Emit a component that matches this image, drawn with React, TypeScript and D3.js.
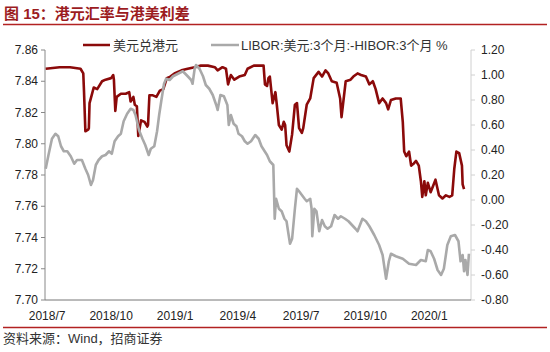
import React from "react";
import * as d3 from "d3";

const redDates = ["2018-06-29","2018-07-19","2018-08-03","2018-08-18","2018-08-22","2018-08-23","2018-08-25","2018-08-29","2018-08-30","2018-08-31","2018-09-03","2018-09-06","2018-09-11","2018-09-18","2018-09-23","2018-10-01","2018-10-04","2018-10-05","2018-10-07","2018-10-09","2018-10-15","2018-10-22","2018-10-27","2018-10-29","2018-11-02","2018-11-04","2018-11-07","2018-11-09","2018-11-13","2018-11-18","2018-11-22","2018-11-23","2018-11-25","2018-11-30","2018-12-05","2018-12-10","2018-12-15","2018-12-20","2018-12-25","2018-12-31","2019-01-10","2019-01-19","2019-01-29","2019-02-07","2019-02-17","2019-02-27","2019-03-03","2019-03-10","2019-03-15","2019-03-18","2019-03-22","2019-03-27","2019-04-03","2019-04-11","2019-04-15","2019-04-24","2019-05-08","2019-05-10","2019-05-13","2019-05-15","2019-05-17","2019-05-21","2019-05-25","2019-05-27","2019-05-30","2019-06-03","2019-06-06","2019-06-08","2019-06-10","2019-06-14","2019-06-18","2019-06-22","2019-06-25","2019-06-28","2019-07-02","2019-07-04","2019-07-09","2019-07-14","2019-07-19","2019-07-26","2019-07-31","2019-08-05","2019-08-09","2019-08-14","2019-08-21","2019-08-26","2019-08-28","2019-09-03","2019-09-10","2019-09-14","2019-09-20","2019-09-25","2019-10-02","2019-10-07","2019-10-12","2019-10-16","2019-10-21","2019-10-26","2019-10-31","2019-11-03","2019-11-07","2019-11-14","2019-11-21","2019-11-24","2019-11-26","2019-11-29","2019-12-03","2019-12-06","2019-12-09","2019-12-13","2019-12-17","2019-12-20","2019-12-22","2019-12-25","2019-12-27","2019-12-30","2020-01-03","2020-01-10","2020-01-15","2020-01-20","2020-01-25","2020-01-30","2020-02-03","2020-02-06","2020-02-09","2020-02-13","2020-02-17","2020-02-18","2020-02-20"];
const redValues = [7.848,7.849,7.849,7.848,7.845,7.834,7.808,7.809,7.810,7.826,7.831,7.836,7.835,7.840,7.841,7.842,7.844,7.841,7.821,7.830,7.832,7.832,7.833,7.827,7.830,7.825,7.824,7.805,7.815,7.814,7.811,7.812,7.831,7.831,7.830,7.834,7.835,7.842,7.843,7.845,7.847,7.848,7.849,7.850,7.850,7.849,7.847,7.849,7.848,7.838,7.844,7.841,7.843,7.844,7.848,7.850,7.850,7.838,7.837,7.842,7.843,7.826,7.833,7.825,7.812,7.809,7.814,7.812,7.799,7.795,7.806,7.825,7.826,7.810,7.807,7.810,7.825,7.829,7.842,7.846,7.843,7.847,7.845,7.840,7.839,7.829,7.817,7.840,7.841,7.843,7.845,7.844,7.843,7.838,7.840,7.835,7.826,7.829,7.826,7.822,7.828,7.829,7.829,7.814,7.795,7.792,7.795,7.786,7.787,7.789,7.786,7.776,7.766,7.776,7.767,7.775,7.769,7.777,7.767,7.765,7.767,7.766,7.767,7.784,7.795,7.794,7.786,7.774,7.771];

const grayDates = ["2018-06-29","2018-07-03","2018-07-08","2018-07-13","2018-07-17","2018-07-21","2018-07-25","2018-07-30","2018-08-04","2018-08-09","2018-08-13","2018-08-20","2018-08-25","2018-08-29","2018-09-02","2018-09-05","2018-09-09","2018-09-13","2018-09-18","2018-09-23","2018-09-28","2018-10-02","2018-10-06","2018-10-11","2018-10-15","2018-10-19","2018-10-24","2018-10-29","2018-11-02","2018-11-05","2018-11-10","2018-11-15","2018-11-19","2018-11-24","2018-11-27","2018-12-02","2018-12-06","2018-12-09","2018-12-12","2018-12-16","2018-12-19","2018-12-24","2018-12-29","2019-01-05","2019-01-12","2019-01-19","2019-01-24","2019-01-26","2019-01-29","2019-01-31","2019-02-05","2019-02-10","2019-02-14","2019-02-19","2019-02-24","2019-03-01","2019-03-03","2019-03-07","2019-03-12","2019-03-17","2019-03-19","2019-03-22","2019-03-26","2019-03-30","2019-04-02","2019-04-07","2019-04-11","2019-04-15","2019-04-20","2019-04-26","2019-05-01","2019-05-05","2019-05-13","2019-05-17","2019-05-22","2019-05-24","2019-05-26","2019-05-30","2019-06-03","2019-06-07","2019-06-10","2019-06-13","2019-06-15","2019-06-18","2019-06-22","2019-06-25","2019-06-28","2019-07-02","2019-07-06","2019-07-09","2019-07-14","2019-07-16","2019-07-17","2019-07-20","2019-07-23","2019-07-27","2019-07-31","2019-08-04","2019-08-08","2019-08-13","2019-08-18","2019-08-23","2019-08-27","2019-09-02","2019-09-07","2019-09-12","2019-09-17","2019-09-20","2019-09-27","2019-10-02","2019-10-07","2019-10-14","2019-10-21","2019-10-26","2019-10-31","2019-11-04","2019-11-07","2019-11-14","2019-11-24","2019-12-03","2019-12-13","2019-12-20","2019-12-27","2019-12-30","2020-01-03","2020-01-08","2020-01-13","2020-01-18","2020-01-22","2020-01-27","2020-02-01","2020-02-07","2020-02-12","2020-02-15","2020-02-18","2020-02-20","2020-02-22","2020-02-25","2020-02-27"];
const grayValues = [0.25,0.36,0.49,0.53,0.51,0.43,0.39,0.39,0.35,0.29,0.32,0.32,0.25,0.20,0.12,0.16,0.28,0.32,0.35,0.36,0.39,0.37,0.47,0.51,0.53,0.63,0.69,0.73,0.72,0.68,0.56,0.49,0.44,0.36,0.41,0.43,0.55,0.68,0.79,0.93,0.97,0.96,0.99,1.01,1.03,0.99,0.96,0.93,1.05,1.08,1.05,0.99,0.92,0.89,0.84,0.76,0.72,0.84,0.83,0.76,0.60,0.68,0.61,0.59,0.53,0.51,0.47,0.45,0.47,0.52,0.49,0.43,0.36,0.31,0.28,-0.15,0.01,-0.07,-0.09,-0.15,-0.17,-0.28,-0.35,-0.31,-0.07,0.09,0.07,0.04,0.01,-0.01,0.01,-0.07,-0.29,-0.07,-0.09,-0.25,-0.16,-0.21,-0.23,-0.21,-0.12,-0.15,-0.13,-0.15,-0.17,-0.20,-0.23,-0.25,-0.15,-0.17,-0.21,-0.28,-0.36,-0.44,-0.63,-0.49,-0.43,-0.45,-0.47,-0.51,-0.52,-0.48,-0.49,-0.40,-0.41,-0.47,-0.56,-0.60,-0.55,-0.36,-0.29,-0.28,-0.33,-0.49,-0.44,-0.57,-0.48,-0.60,-0.43];

const leftTicks = [7.70, 7.72, 7.74, 7.76, 7.78, 7.80, 7.82, 7.84, 7.86];
const rightTicks = [-0.8, -0.6, -0.4, -0.2, 0, 0.2, 0.4, 0.6, 0.8, 1.0, 1.2];
const xTickDates = ["2018-07-01","2018-10-01","2019-01-01","2019-04-01","2019-07-01","2019-10-01","2020-01-01"];
const xTickLabels = ["2018/7","2018/10","2019/1","2019/4","2019/7","2019/10","2020/1"];

const seriesNames = ["美元兑港元", "LIBOR:美元:3个月:-HIBOR:3个月 %"];
const title = "图 15：港元汇率与港美利差";
const source = "资料来源：Wind，招商证券";

const RED = "#8B0A0A";
const GRAY = "#A9A9A9";
const FONT = "Arial, 'Liberation Sans', 'Noto Sans CJK SC', sans-serif";

export default function App() {
  const parse = d3.timeParse("%Y-%m-%d");
  const left = 45, right = 471, top = 50, bottom = 300;
  const x = d3.scaleTime().domain([parse("2018-06-28")!, parse("2020-03-01")!]).range([left, right]);
  const yL = d3.scaleLinear().domain([7.70, 7.86]).range([bottom, top]);
  const yR = d3.scaleLinear().domain([-0.8, 1.2]).range([bottom, top]);

  const redData = redDates.map((d, i) => ({ d: parse(d)!, v: redValues[i] }));
  const grayData = grayDates.map((d, i) => ({ d: parse(d)!, v: grayValues[i] }));
  const redLine = d3.line<{ d: Date; v: number }>().x(p => x(p.d)).y(p => yL(p.v));
  const grayLine = d3.line<{ d: Date; v: number }>().x(p => x(p.d)).y(p => yR(p.v));

  return (
    <svg width={550} height={352} style={{ position: "absolute", left: 0, top: 0, background: "#fff" }} fontFamily={FONT}>
      <rect width={550} height={352} fill="#fff" />
      <text x={4} y={19} fontSize={15} fontWeight="bold" fill="#9C1C1F">{title}</text>
      <line x1={3} x2={547} y1={24.5} y2={24.5} stroke="#B22222" strokeWidth={1.5} />

      {/* left axis */}
      <line x1={left} x2={left} y1={top} y2={bottom} stroke="#888" strokeWidth={1} />
      {leftTicks.map(t => (
        <g key={"l" + t}>
          <line x1={left - 4} x2={left} y1={yL(t)} y2={yL(t)} stroke="#888" />
          <text x={38} y={yL(t) + 4} fontSize={12} textAnchor="end" fill="#222">{t.toFixed(2)}</text>
        </g>
      ))}
      {/* right axis */}
      <line x1={right} x2={right} y1={top} y2={bottom} stroke="#D0D0D0" strokeWidth={1} />
      {rightTicks.map(t => (
        <g key={"r" + t}>
          <line x1={right} x2={right + 4} y1={yR(t)} y2={yR(t)} stroke="#D0D0D0" />
          <text x={481} y={yR(t) + 4} fontSize={12} textAnchor="start" fill="#222">{t.toFixed(2)}</text>
        </g>
      ))}
      {/* bottom axis */}
      <line x1={left} x2={right} y1={bottom} y2={bottom} stroke="#777" strokeWidth={1} />
      {xTickDates.map((d, i) => (
        <text key={d} x={x(parse(d)!)} y={320} fontSize={12} textAnchor="middle" fill="#222">{xTickLabels[i]}</text>
      ))}

      <path d={redLine(redData) || ""} fill="none" stroke={RED} strokeWidth={2.6} strokeLinejoin="round" />
      <path d={grayLine(grayData) || ""} fill="none" stroke={GRAY} strokeWidth={2.6} strokeLinejoin="round" />

      {/* legend */}
      <line x1={83} x2={110} y1={45} y2={45} stroke={RED} strokeWidth={2.5} />
      <text x={113} y={49.5} fontSize={13} fill="#333">{seriesNames[0]}</text>
      <line x1={211} x2={239} y1={45} y2={45} stroke={GRAY} strokeWidth={2.5} />
      <text x={241} y={49.5} fontSize={13} fill="#333">{seriesNames[1]}</text>

      <line x1={3} x2={547} y1={327.5} y2={327.5} stroke="#B22222" strokeWidth={1.5} />
      <text x={3} y={343} fontSize={13} fill="#333">{source}</text>
    </svg>
  );
}
